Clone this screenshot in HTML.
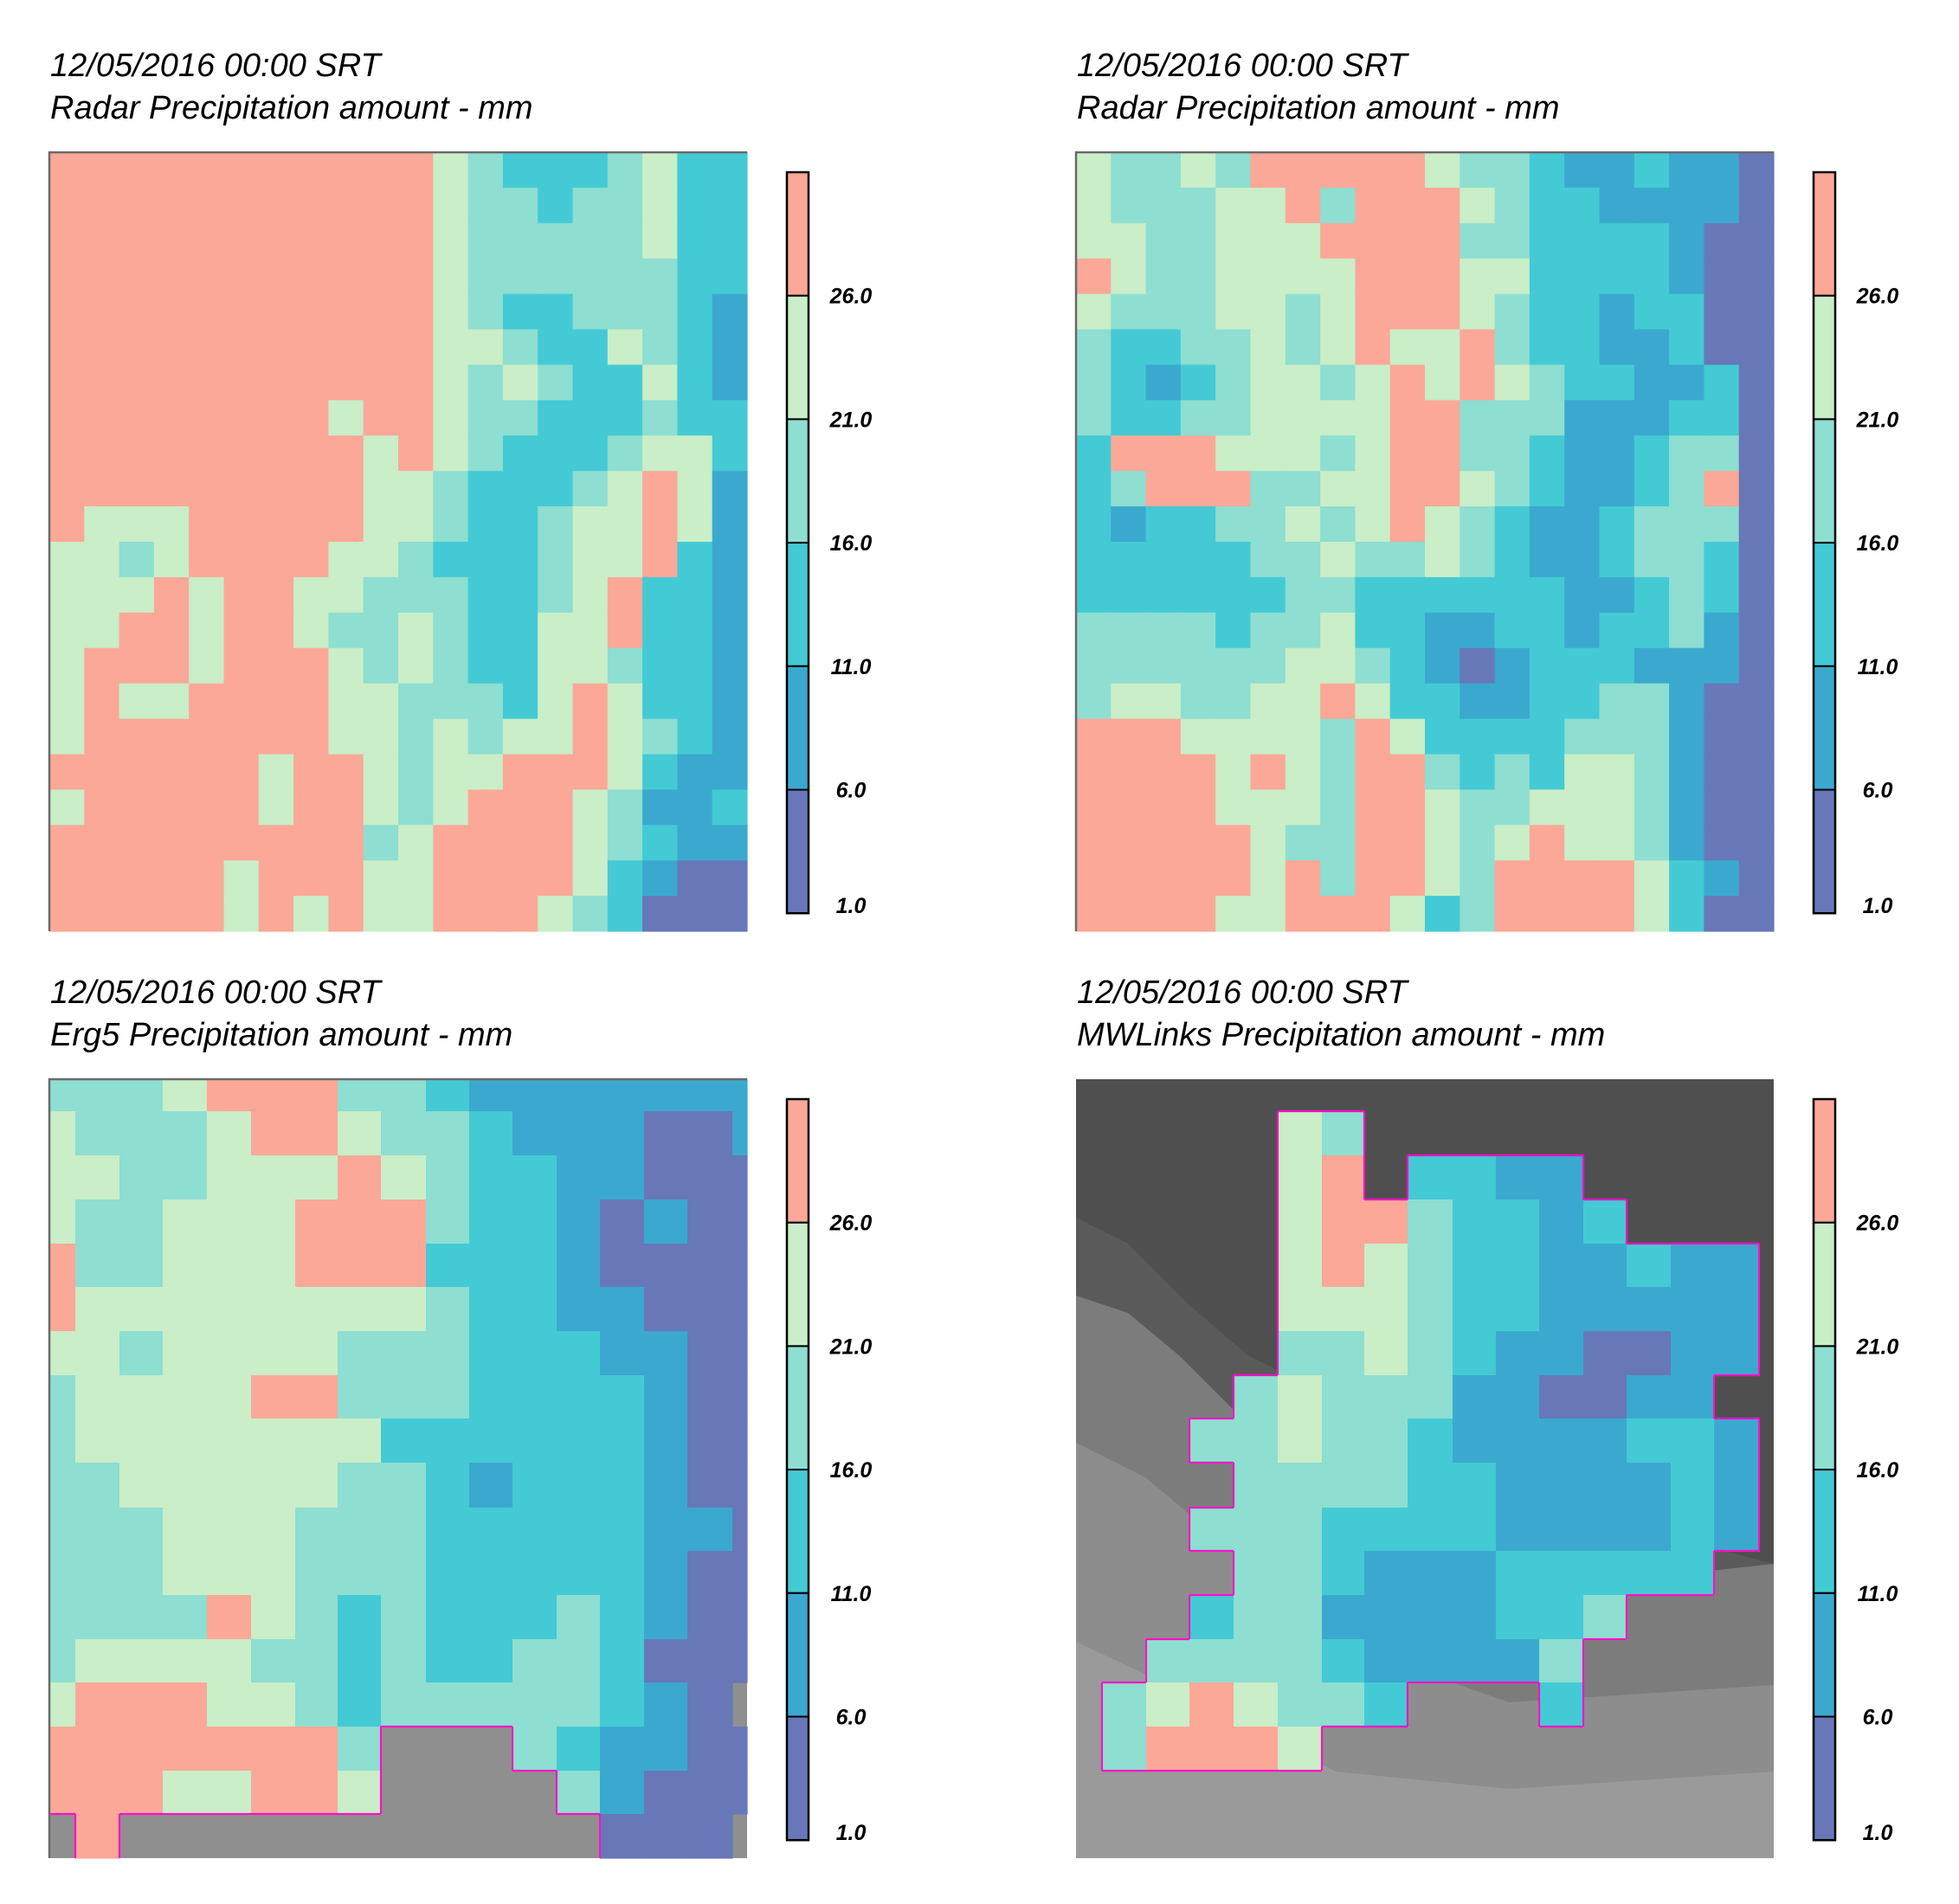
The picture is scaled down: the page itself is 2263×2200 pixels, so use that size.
<!DOCTYPE html>
<html><head><meta charset="utf-8"><style>
html,body{margin:0;padding:0;background:#fff;}
svg{display:block;}
text{font-family:"Liberation Sans",sans-serif;font-style:italic;fill:#000;}
</style></head><body>
<svg id="s" width="2263" height="2200" xmlns="http://www.w3.org/2000/svg">
<rect width="2263" height="2200" fill="#fff"/>
<g id="g"></g>
<text x="58" y="88" font-size="38">12/05/2016 00:00 SRT</text>
<text x="58" y="137" font-size="38">Radar Precipitation amount - mm</text>
<text x="1244" y="88" font-size="38">12/05/2016 00:00 SRT</text>
<text x="1244" y="137" font-size="38">Radar Precipitation amount - mm</text>
<text x="58" y="1159" font-size="38">12/05/2016 00:00 SRT</text>
<text x="58" y="1208" font-size="38">Erg5 Precipitation amount - mm</text>
<text x="1244" y="1159" font-size="38">12/05/2016 00:00 SRT</text>
<text x="1244" y="1208" font-size="38">MWLinks Precipitation amount - mm</text>
</svg>
<script>
var NS="http://www.w3.org/2000/svg",G=document.getElementById("g");
var COL={R:"#FBA898",G:"#C9EEC8",T:"#8EDED1",C:"#44CAD5",B:"#3BA9CF",P:"#6877B8",X:"#8f8f8f"};
function el(t,a){var e=document.createElementNS(NS,t);for(var k in a)e.setAttribute(k,a[k]);G.appendChild(e);return e;}
function grid(ox,oy,xs,ys,rows,skipX,border,maxc){
  for(var r=0;r<rows.length;r++)for(var c=0;c<rows[r].length;c++){
    var ch=rows[r][c];if(ch==='.'||(skipX&&ch==='X'))continue;
    el("rect",{x:ox+xs[c],y:oy+ys[r],width:xs[c+1]-xs[c]+0.6,height:ys[r+1]-ys[r]+0.6,fill:COL[ch]});
  }
  if(border){
    function data(r,c){if(r<0||r>=rows.length||c<0||c>=rows[0].length)return null;var ch=rows[r][c];return !(ch==='.'||ch==='X');}
    for(var r=0;r<rows.length;r++)for(var c=0;c<rows[r].length;c++){
      if(!data(r,c))continue;
      var nb=[[r-1,c],[r+1,c],[r,c-1],[r,c+1]];
      for(var i=0;i<4;i++){var d=data(nb[i][0],nb[i][1]);
        if(d===false&&nb[i][1]<maxc){
          var x1,y1,x2,y2;
          if(i==0){x1=xs[c];x2=xs[c+1];y1=y2=ys[r];}
          if(i==1){x1=xs[c];x2=xs[c+1];y1=y2=ys[r+1];}
          if(i==2){y1=ys[r];y2=ys[r+1];x1=x2=xs[c];}
          if(i==3){y1=ys[r];y2=ys[r+1];x1=x2=xs[c+1];}
          el("line",{x1:ox+x1,y1:oy+y1,x2:ox+x2,y2:oy+y2,stroke:"#ff10c8","stroke-width":2.2});
        }}
    }
  }
}
function uni(n,L){var a=[];for(var i=0;i<=n;i++)a.push(L*i/n);return a;}
function frame(ox,oy){el("path",{d:"M"+ox+","+(oy+900)+"V"+oy+"H"+(ox+806),fill:"none",stroke:"#6a6a6a","stroke-width":2.5});}
function cbar(ox){
  var cols=["R","G","T","C","B","P"],labs=["26.0","21.0","16.0","11.0","6.0"];
  [0,1071].forEach(function(oy){
    var top=199+oy,h=142.7;
    for(var i=0;i<6;i++){el("rect",{x:ox,y:top+h*i,width:25,height:h,fill:COL[cols[i]],stroke:"#000","stroke-width":2});}
    el("rect",{x:ox,y:top,width:25,height:h*6,fill:"none",stroke:"#000","stroke-width":2.5});
    for(var i=0;i<5;i++){var t=el("text",{x:ox+74,y:top+h*(i+1)+9,"font-size":25,"font-weight":"bold","text-anchor":"middle"});t.textContent=labs[i];}
    var t=el("text",{x:ox+74,y:top+h*6,"font-size":25,"font-weight":"bold","text-anchor":"middle"});t.textContent="1.0";
  });
}
var p1=["RRRRRRRRRRRGTCCCTGCC","RRRRRRRRRRRGTTCTTGCC","RRRRRRRRRRRGTTTTTGCC","RRRRRRRRRRRGTTTTTTCC","RRRRRRRRRRRGTCCTTTCB","RRRRRRRRRRRGGTCCGTCB","RRRRRRRRRRRGTGTCCGCB","RRRRRRRRGRRGTTCCCTCC","RRRRRRRRRGRGTCCCTGGC","RRRRRRRRRGGTCCCTGRGB","RGGGRRRRRGGTCCTGGRGB","GGTGRRRRGGTCCCTGGRCB","GGGRGRRGGTTTCCTGRCCB","GGRRGRRGTTGTCCGGRCCB","GRRRGRRRGTGTCCGGTCCB","GRGGRRRRGGTTTCGRGCCB","GRRRRRRRGGTGTGGRGTCB","RRRRRRGRRGTGGRRRGCBB","GRRRRRGRRGTGRRRGTBBC","RRRRRRRRRTGRRRRGTCBB","RRRRRGRRRGGRRRRGCBPP","RRRRRGRGRGGRRRGTCPPP"];
var p2=["GTTGTRRRRRGTTCBBCBBP","GTTTGGRTRRRGTCCBBBBP","GGTTGGGRRRRTTCCCCBPP","RGTTGGGGRRRGGCCCCBPP","GTTTGGTGRRRGTCCBCCPP","TCCTTGTGRGGRTCCBBCPP","TCBCTGGTGRGRGTCCBBCP","TCCTTGGGGRRTTTBBBCCP","CRRRGGGTGRRTTCBBCTTP","CTRRRTTGGRRGTCBBCTRP","CBCCTTGTGRGTCBBCTTTP","CCCCCTTGTTGTCBBCTTCP","CCCCCCTTCCCCCCBBCTCP","TTTTCTTGCCBBCCBCCTBP","TTTTTTGGTCBPBCCCBBBP","TGGTTGGRGCCBBCCTTBPP","RRRGGGGTRGCCCCTTTBPP","RRRRGRGTRRTCTCGGTBPP","RRRRGGGTRRGTTGGGTBPP","RRRRRGTTRRGTGRGGTBPP","RRRRRGRTRRGTRRRRGCBP","RRRRGGRRRGCTRRRRGCPP"];
var xs=[0,30,81,131,182,233,284,333,383,435,485,535,586,636,687,737,789,806];
var ys=[0,37,88,139,190,240,291,342,392,443,495,545,596,647,697,748,799,849,900];
var p3=["TTTGRRRTTCBBBBBBB","GTTTGRRGTTCBBBPPB","GGTTGGGRGTCCBBPPP","GTTGGGRRRTCCBPBPP","RTTGGGRRRCCCBPPPP","RGGGGGGGGTCCBBPPP","GGTGGGGTTTCCCBBPP","TGGGGRRTTTCCCCBPP","TGGGGGGGCCCCCCBPP","TTGGGGGTTCBCCCBPP","TTTGGGTTTCCCCCBBP","TTTGGGTTTCCCCCBPP","TTTTRGTCTCCCTCBPP","TGGGGTTCTCCTTCPPP","GRRRGGTCTTTTTCBPX","RRRRRRRTXXXTCBBPP","RRRGGRRGXXXXTBPPP","XRXXXXXXXXXXXPPPX"];
var p4=[".................",".....GT..........",".....GR.CCBB.....",".....GRRTCCBC....",".....GRGTCCBBCBB.",".....GGGTCCBBBBB.",".....TTGTCBBPPBB.","....TGTTTBBPPBB..","...TTGTTCBBBBCCB.","....TTTTCCBBBBCB.","...TTTCCCCBBBBCB.","....TTCBBBCCCCC..","...CTTBBBBCCT....","..TTTTCBBBBT.....",".TGRGTTC...C.....",".TRRRG...........",".................","................."];
// panel 4 background
(function(){var ox=1243,oy=1247;
function poly(pts,f){el("polygon",{points:pts.map(function(p){return (ox+p[0])+","+(oy+p[1]);}).join(" "),fill:f});}
el("rect",{x:ox,y:oy,width:806,height:900,fill:"#4f4f4f"});
poly([[0,160],[60,190],[130,260],[200,320],[260,350],[330,400],[420,460],[806,560],[806,900],[0,900]],"#5a5a5a");
poly([[0,250],[60,270],[120,320],[180,380],[230,450],[330,520],[480,560],[620,580],[806,560],[806,900],[0,900]],"#7c7c7c");
poly([[0,420],[80,460],[200,560],[300,650],[500,720],[806,700],[806,900],[0,900]],"#8d8d8d");
poly([[0,650],[150,720],[300,800],[500,820],[806,800],[806,900],[0,900]],"#9a9a9a");
})();
// erg5 terrain background
el("rect",{x:57,y:1247,width:806,height:900,fill:"#8f8f8f"});
grid(57,176,uni(20,806),uni(22,900),p1,false,false,99);
grid(1243,176,uni(20,806),uni(22,900),p2,false,false,99);
grid(57,1247,xs,ys,p3,true,true,16);
grid(1243,1247,xs,ys,p4,true,true,99);
frame(57,176);frame(1243,176);frame(57,1247);
cbar(909);cbar(2095);
</script>
</body></html>
